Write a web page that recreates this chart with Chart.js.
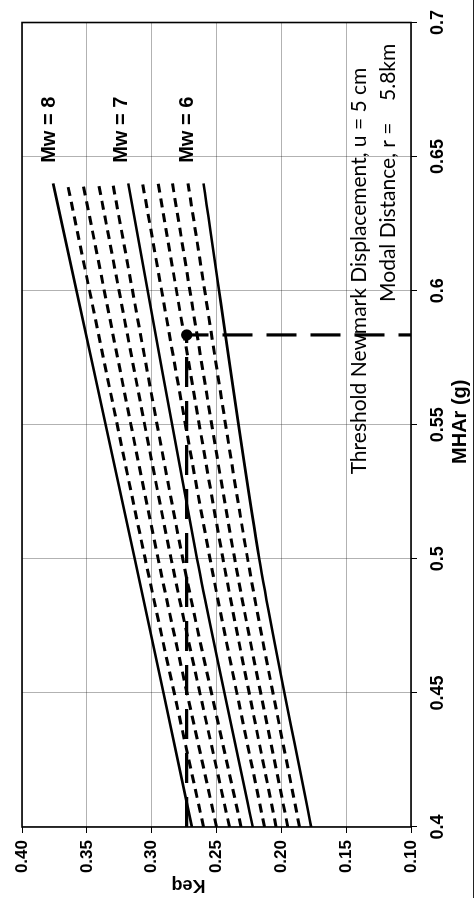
<!DOCTYPE html>
<html><head><meta charset="utf-8">
<script src="https://cdn.jsdelivr.net/npm/chart.js@4/dist/chart.umd.min.js"></script>
<style>
html,body{margin:0;padding:0;background:#fff;width:474px;height:898px;overflow:hidden;}
#wrap{position:absolute;left:0;top:0;width:898px;height:474px;transform-origin:0 0;transform:translate(0px,898px) rotate(-90deg);background:#fff;}
</style></head><body>
<div id="wrap"><canvas id="c" width="898" height="474"></canvas></div>
<script>
// MHAr (g) values where each curve was read
const mharPoints = [0.4, 0.5, 0.64];
// keq for each magnitude curve at mharPoints
const keqMw80 = [0.269, 0.313, 0.376];
const keqMw78 = [0.260, 0.305, 0.365];
const keqMw76 = [0.250, 0.295, 0.353];
const keqMw74 = [0.240, 0.285, 0.341];
const keqMw72 = [0.231, 0.276, 0.330];
const keqMw70 = [0.222, 0.265, 0.318];
const keqMw68 = [0.213, 0.255, 0.307];
const keqMw66 = [0.204, 0.245, 0.295];
const keqMw64 = [0.195, 0.236, 0.284];
const keqMw62 = [0.186, 0.226, 0.272];
const keqMw60 = [0.177, 0.217, 0.260];
const magnitudes = [8.0, 7.8, 7.6, 7.4, 7.2, 7.0, 6.8, 6.6, 6.4, 6.2, 6.0];
const curves = [keqMw80, keqMw78, keqMw76, keqMw74, keqMw72, keqMw70, keqMw68, keqMw66, keqMw64, keqMw62, keqMw60];
// threshold path
const thresholdMhar = [0.4, 0.5835, 0.5835];
const thresholdKeq = [0.273, 0.273, 0.10];
// ticks
const mharTicks = [0.4, 0.45, 0.5, 0.55, 0.6, 0.65, 0.7];
const mharTickLabels = ['0.4', '0.45', '0.5', '0.55', '0.6', '0.65', '0.7'];
const keqTicks = [0.10, 0.15, 0.20, 0.25, 0.30, 0.35, 0.40];
const keqTickLabels = ['0.10', '0.15', '0.20', '0.25', '0.30', '0.35', '0.40'];
// texts
const mwLabels = ['Mw = 8', 'Mw = 7', 'Mw = 6'];
const noteLines = ['Threshold Newmark Displacement, u = 5 cm', 'Modal Distance, r =    5.8km'];
const xTitle = 'MHAr (g)';
const yTitle = 'Keq';

const datasets = curves.map((arr, i) => {
  const solid = Number.isInteger(magnitudes[i]);
  return {
    label: 'Mw = ' + magnitudes[i],
    data: mharPoints.map((m, j) => ({x: m, y: arr[j]})),
    showLine: true,
    borderColor: '#000',
    borderWidth: solid ? 2.6 : 3,
    borderDash: solid ? [] : [9, 6],
    pointRadius: 0,
    tension: 0.3
  };
});
datasets.push({
  label: 'Threshold',
  data: thresholdMhar.map((m, j) => ({x: m, y: thresholdKeq[j]})),
  showLine: true,
  borderColor: '#000',
  backgroundColor: '#000',
  borderWidth: 3.2,
  borderDash: [30, 14],
  pointRadius: [0, 4, 0],
  tension: 0
});

const FONT_B = '"Liberation Sans", Arial, sans-serif';
const FONT_R = 'Lato, "Open Sans", sans-serif';

const overlay = {
  id: 'overlay',
  afterDraw(chart) {
    const {ctx, chartArea: a, scales: {x, y}} = chart;
    ctx.save();
    ctx.setLineDash([]);
    ctx.strokeStyle = '#000';
    ctx.lineWidth = 1.6;
    ctx.strokeRect(a.left, a.top, a.right - a.left, a.bottom - a.top);
    // outer frame line
    ctx.lineWidth = 1;
    ctx.strokeStyle = '#222';
    ctx.beginPath(); ctx.moveTo(0, 473.5); ctx.lineTo(chart.width, 473.5); ctx.stroke();
    ctx.fillStyle = '#000';
    // magnitude labels
    ctx.font = 'bold 20px ' + FONT_B;
    ctx.textAlign = 'center';
    ctx.textBaseline = 'alphabetic';
    const mwPos = [[0.66, 0.3746], [0.66, 0.319], [0.66, 0.2681]];
    mwLabels.forEach((t, i) => ctx.fillText(t, x.getPixelForValue(mwPos[i][0]), y.getPixelForValue(mwPos[i][1])));
    // notes
    ctx.font = '21px ' + FONT_R;
    ctx.textAlign = 'left';
    ctx.fillText(noteLines[0], x.getPixelForValue(0.5315), y.getPixelForValue(0.1347));
    ctx.fillText(noteLines[1], x.getPixelForValue(0.5958), y.getPixelForValue(0.1123));
    // axis titles
    ctx.font = 'bold 20px ' + FONT_B;
    ctx.textAlign = 'center';
    ctx.fillText(xTitle, (a.left + a.right) / 2 + 3, a.bottom + 55);
    ctx.save();
    ctx.translate(13.5, 188.5);
    ctx.rotate(-Math.PI / 2);
    ctx.font = 'bold 18px ' + FONT_B;
    ctx.textBaseline = 'middle';
    ctx.fillText(yTitle, 0, 0);
    ctx.restore();
    ctx.restore();
  }
};

new Chart(document.getElementById('c'), {
  type: 'scatter',
  data: {datasets},
  options: {
    responsive: false,
    animation: false,
    events: [],
    layout: {padding: {left: 0, top: 22, right: 19.5, bottom: 0}},
    plugins: {legend: {display: false}, tooltip: {enabled: false}, title: {display: false}},
    scales: {
      x: {
        type: 'linear', min: 0.4, max: 0.7,
        afterBuildTicks: s => { s.ticks = mharTicks.map(v => ({value: v})); },
        afterFit: s => { s.height = 63; },
        ticks: {
          color: '#000', padding: 10, maxRotation: 0, autoSkip: false,
          font: {family: FONT_B, size: 18, weight: 'bold'},
          callback: (v, i) => mharTickLabels[i]
        },
        grid: {color: 'rgba(0,0,0,0.3)', lineWidth: 1, borderDash: [2, 3], tickLength: 6, tickColor: '#000', tickBorderDash: [], tickWidth: 1},
        border: {display: false}
      },
      y: {
        type: 'linear', min: 0.10, max: 0.40,
        afterBuildTicks: s => { s.ticks = keqTicks.map(v => ({value: v})); },
        afterFit: s => { s.width = 71; },
        ticks: {
          color: '#000', padding: 7, autoSkip: false,
          font: {family: FONT_B, size: 17, weight: 'bold'},
          callback: (v, i) => keqTickLabels[i]
        },
        grid: {color: 'rgba(0,0,0,0.3)', lineWidth: 1, borderDash: [2, 3], tickLength: 6, tickColor: '#000', tickBorderDash: [], tickWidth: 1},
        border: {display: false}
      }
    }
  },
  plugins: [overlay]
});
</script>
</body></html>
